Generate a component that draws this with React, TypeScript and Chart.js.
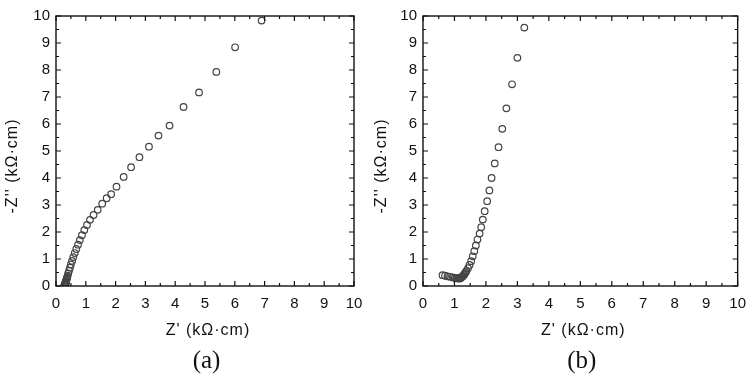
import React, { useEffect, useRef } from "react";
import { Chart, registerables } from "chart.js";

Chart.register(...registerables);

// Panel (a)
const aZreal = [0.28, 0.29, 0.30, 0.30, 0.31, 0.31, 0.32, 0.32, 0.33, 0.33, 0.34, 0.35, 0.36, 0.37, 0.39, 0.41, 0.44, 0.47, 0.50, 0.54, 0.58, 0.63, 0.68, 0.74, 0.80, 0.87, 0.95, 1.04, 1.14, 1.26, 1.40, 1.55, 1.70, 1.85, 2.03, 2.27, 2.52, 2.80, 3.12, 3.44, 3.81, 4.28, 4.80, 5.38, 6.01, 6.90];
const aZimag = [0.02, 0.04, 0.03, 0.07, 0.05, 0.10, 0.08, 0.13, 0.11, 0.16, 0.19, 0.23, 0.27, 0.31, 0.38, 0.47, 0.57, 0.68, 0.80, 0.93, 1.07, 1.22, 1.37, 1.53, 1.70, 1.88, 2.07, 2.26, 2.45, 2.63, 2.82, 3.05, 3.25, 3.40, 3.68, 4.04, 4.40, 4.77, 5.16, 5.57, 5.94, 6.63, 7.17, 7.93, 8.84, 9.83];

// Panel (b)
const bZreal = [0.62, 0.70, 0.78, 0.86, 0.94, 1.01, 1.06, 1.10, 1.14, 1.17, 1.19, 1.21, 1.24, 1.26, 1.29, 1.31, 1.33, 1.36, 1.38, 1.43, 1.48, 1.53, 1.58, 1.63, 1.68, 1.73, 1.80, 1.85, 1.90, 1.96, 2.04, 2.11, 2.18, 2.28, 2.40, 2.52, 2.65, 2.83, 3.00, 3.22];
const bZimag = [0.40, 0.38, 0.36, 0.34, 0.32, 0.30, 0.29, 0.28, 0.28, 0.28, 0.30, 0.31, 0.34, 0.36, 0.40, 0.43, 0.47, 0.51, 0.56, 0.66, 0.78, 0.92, 1.10, 1.29, 1.50, 1.72, 1.94, 2.18, 2.46, 2.77, 3.14, 3.54, 4.00, 4.54, 5.14, 5.82, 6.58, 7.47, 8.45, 9.57];

const axisMin = 0;
const axisMax = 10;
const majorStep = 1;
const minorStep = 0.5;

const xTitle = "Z' (kΩ·cm)";
const yTitle = "-Z'' (kΩ·cm)";

const SANS = "'Liberation Sans', Arial, sans-serif";
const SERIF = "'Liberation Serif', 'Times New Roman', serif";
const INK = "#111111";

const framePlugin = {
  id: "frame",
  afterDatasetsDraw(chart: any) {
    const { ctx, chartArea } = chart;
    const { left, right, top, bottom } = chartArea;
    const xs = chart.scales.x;
    const ys = chart.scales.y;
    ctx.save();
    ctx.strokeStyle = INK;
    ctx.lineWidth = 1.4;
    ctx.strokeRect(left, top, right - left, bottom - top);
    ctx.lineWidth = 1.2;
    for (let v = axisMin; v <= axisMax + 1e-9; v += minorStep) {
      const major = Math.abs(v / majorStep - Math.round(v / majorStep)) < 1e-6;
      const len = major ? 5 : 3;
      const px = xs.getPixelForValue(v);
      const py = ys.getPixelForValue(v);
      ctx.beginPath();
      ctx.moveTo(px, bottom);
      ctx.lineTo(px, bottom - len);
      ctx.moveTo(px, top);
      ctx.lineTo(px, top + len);
      ctx.moveTo(left, py);
      ctx.lineTo(left + len, py);
      ctx.moveTo(right, py);
      ctx.lineTo(right - len, py);
      ctx.stroke();
    }
    ctx.restore();
  },
  afterDraw(chart: any, _args: any, opts: any) {
    const { ctx, chartArea } = chart;
    const cx = (chartArea.left + chartArea.right) / 2;
    ctx.save();
    ctx.fillStyle = INK;
    ctx.textAlign = "center";
    ctx.textBaseline = "middle";
    (ctx as any).letterSpacing = "1px";
    ctx.font = `16px ${SANS}`;
    ctx.fillText(xTitle, cx + 3, 331);
    ctx.save();
    ctx.translate(opts.yTitleX, 166);
    ctx.rotate(-Math.PI / 2);
    ctx.fillText(yTitle, 0, 0);
    ctx.restore();
    (ctx as any).letterSpacing = "0px";
    ctx.font = `25px ${SERIF}`;
    ctx.fillText(opts.caption, cx + 1.5, 361);
    ctx.restore();
  },
};

function makeConfig(xv: number[], yv: number[], yAxisWidth: number, padRight: number, caption: string, yTitleX: number): any {
  const data = xv.map((x, i) => ({ x, y: yv[i] }));
  return {
    type: "scatter",
    data: {
      datasets: [
        {
          data,
          pointStyle: "circle",
          pointRadius: 3.3,
          pointHoverRadius: 3.3,
          borderWidth: 1.2,
          borderColor: "#444444",
          backgroundColor: "rgba(0,0,0,0)",
          clip: 0,
        },
      ],
    },
    options: {
      animation: false,
      responsive: false,
      devicePixelRatio: 1,
      layout: { padding: { top: 16, right: padRight, left: 0, bottom: 0 } },
      plugins: {
        legend: { display: false },
        tooltip: { enabled: false },
        frame: { caption, yTitleX },
      },
      scales: {
        x: {
          type: "linear",
          min: axisMin,
          max: axisMax,
          grid: { display: false, drawTicks: false },
          border: { display: false },
          ticks: {
            stepSize: majorStep,
            padding: 9,
            color: INK,
            font: { family: SANS, size: 15 },
            maxRotation: 0,
            autoSkip: false,
          },
          afterFit(scale: any) {
            scale.height = 95;
          },
        },
        y: {
          type: "linear",
          min: axisMin,
          max: axisMax,
          grid: { display: false, drawTicks: false },
          border: { display: false },
          ticks: {
            stepSize: majorStep,
            padding: 6,
            color: INK,
            font: { family: SANS, size: 15 },
            autoSkip: false,
          },
          afterFit(scale: any) {
            scale.width = yAxisWidth;
          },
        },
      },
    },
    plugins: [framePlugin],
  };
}

function Panel(props: { left: number; width: number; cfg: () => any }) {
  const ref = useRef<HTMLCanvasElement | null>(null);
  useEffect(() => {
    if (!ref.current) return;
    const chart = new Chart(ref.current, props.cfg());
    return () => chart.destroy();
  }, []);
  return (
    <canvas
      ref={ref}
      width={props.width}
      height={381}
      style={{ position: "absolute", left: props.left, top: 0, width: props.width, height: 381 }}
    />
  );
}

export default function App() {
  return (
    <div style={{ position: "absolute", left: 0, top: 0, width: 755, height: 381, background: "#fff", overflow: "hidden" }}>
      <Panel left={0} width={378} cfg={() => makeConfig(aZreal, aZimag, 56, 24, "(a)", 12.5)} />
      <Panel left={358} width={397} cfg={() => makeConfig(bZreal, bZimag, 65, 15, "(b)", 23.5)} />
    </div>
  );
}
